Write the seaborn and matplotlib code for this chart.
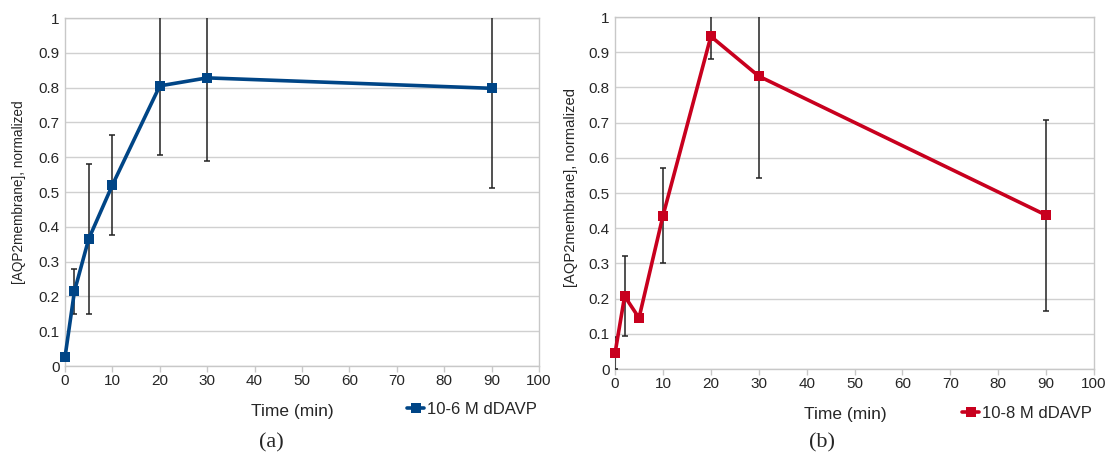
import matplotlib
matplotlib.use("Agg")
import matplotlib.pyplot as plt
import seaborn as sns
import pandas as pd
from matplotlib.ticker import FuncFormatter

# ---- data ----
time_min = [0, 2, 5, 10, 20, 30, 90]

a_label = "10-6 M dDAVP"
a_values = [0.025, 0.215, 0.365, 0.520, 0.805, 0.828, 0.798]
a_err = [0.005, 0.065, 0.215, 0.143, 0.200, 0.238, 0.287]

b_label = "10-8 M dDAVP"
b_values = [0.045, 0.207, 0.145, 0.435, 0.945, 0.832, 0.437]
b_err = [0.045, 0.114, 0.005, 0.135, 0.065, 0.290, 0.271]

x_ticks = list(range(0, 101, 10))
y_ticks = [round(i * 0.1, 1) for i in range(11)]
captions = ["(a)", "(b)"]

sns.set_theme(style="white")
plt.rcParams["font.family"] = ["Liberation Sans", "DejaVu Sans"]

fig = plt.figure(figsize=(11.07, 4.55), dpi=100)
ax_a = fig.add_axes([0.0587, 0.1956, 0.4282, 0.7648])
ax_b = fig.add_axes([0.5556, 0.189, 0.4327, 0.7736])

grid_col = "#d0d0d0"

def draw(ax, values, err, label, color, ylab_size, ylab_x, ylab_y):
    df = pd.DataFrame({"Time (min)": time_min, "value": values, "series": label})
    ax.errorbar(time_min, values, yerr=err, fmt="none", ecolor="#222222",
                elinewidth=1.1, capsize=2.5, capthick=1.1, zorder=3)
    sns.lineplot(data=df, x="Time (min)", y="value", hue="series",
                 palette=[color], marker="s", markersize=6.5,
                 markeredgewidth=0, linewidth=2.6, ax=ax, zorder=4,
                 clip_on=False)
    ax.set_xlim(0, 100)
    ax.set_ylim(0, 1)
    ax.set_xticks(x_ticks)
    ax.set_yticks(y_ticks)
    ax.yaxis.set_major_formatter(FuncFormatter(lambda v, p: f"{v:g}"))
    ax.grid(axis="y", color=grid_col, linewidth=1)
    ax.set_axisbelow(True)
    for s in ax.spines.values():
        s.set_color("#c8c8c8")
        s.set_linewidth(1)
    ax.tick_params(axis="x", direction="out", length=4, width=1, color="#c8c8c8",
                   labelsize=11, pad=2, bottom=True)
    ax.tick_params(axis="y", length=0, labelsize=11, pad=4, left=False)
    ax.set_xlabel("Time (min)", fontsize=12.5)
    ax.xaxis.set_label_coords(0.48, -0.108)
    ax.set_ylabel("[AQP2membrane], normalized", fontsize=ylab_size)
    ax.yaxis.set_label_coords(ylab_x, ylab_y)
    ax.legend(loc="upper right", bbox_to_anchor=(1.01, -0.085), frameon=False,
              fontsize=12, handlelength=1.0, handletextpad=0.2,
              borderaxespad=0, title=None)

draw(ax_a, a_values, a_err, a_label, "#004586", 9.8, -0.082, 0.5)
draw(ax_b, b_values, b_err, b_label, "#c8001e", 10.6, -0.077, 0.515)

fig.text(271 / 1107, 1 - 443 / 455, captions[0], ha="center", va="center",
         fontsize=16, family=["Liberation Serif", "DejaVu Serif"])
fig.text(822 / 1107, 1 - 443 / 455, captions[1], ha="center", va="center",
         fontsize=16, family=["Liberation Serif", "DejaVu Serif"])

fig.savefig("out.png", dpi=100)
